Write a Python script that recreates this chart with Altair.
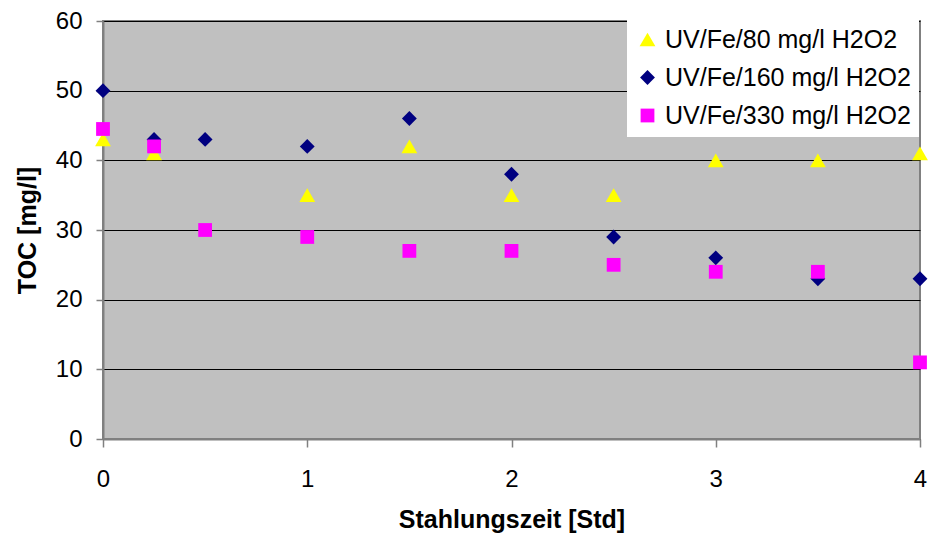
import altair as alt
import pandas as pd

series_names = ["UV/Fe/80 mg/l H2O2", "UV/Fe/160 mg/l H2O2", "UV/Fe/330 mg/l H2O2"]
series_colors = ["#FFFF00", "#000080", "#FF00FF"]
series_shapes = ["triangle-up", "diamond", "square"]

x_80 = [0, 0.25, 1, 1.5, 2, 2.5, 3, 3.5, 4]
toc_80 = [43, 41, 35, 42, 35, 35, 40, 40, 41]

x_160 = [0, 0.25, 0.5, 1, 1.5, 2, 2.5, 3, 3.5, 4]
toc_160 = [50, 43, 43, 42, 46, 38, 29, 26, 23, 23]

x_330 = [0, 0.25, 0.5, 1, 1.5, 2, 2.5, 3, 3.5, 4]
toc_330 = [44.5, 42, 30, 29, 27, 27, 25, 24, 24, 11]

x_ticks = [0, 1, 2, 3, 4]
y_ticks = [0, 10, 20, 30, 40, 50, 60]

rows = []
for name, xs, ys in zip(series_names, [x_80, x_160, x_330], [toc_80, toc_160, toc_330]):
    for xv, yv in zip(xs, ys):
        rows.append({"Zeit": xv, "TOC": yv, "Serie": name})
df = pd.DataFrame(rows)

FONT = "Liberation Sans"

points = alt.Chart(df).mark_point(filled=True, opacity=1, strokeWidth=0).encode(
    x=alt.X("Zeit:Q",
            scale=alt.Scale(domain=[0, 4], nice=False, zero=False),
            axis=alt.Axis(values=x_ticks, title="Stahlungszeit [Std]", grid=False,
                          format="d", tickSize=8, labelPadding=20, titlePadding=16,
                          labelFlush=False)),
    y=alt.Y("TOC:Q",
            scale=alt.Scale(domain=[0, 60], nice=False),
            axis=alt.Axis(values=y_ticks, title="TOC [mg/l]", grid=True,
                          tickSize=7, labelPadding=14, titlePadding=15,
                          labelFlush=False)),
    color=alt.Color("Serie:N",
                    scale=alt.Scale(domain=series_names, range=series_colors),
                    legend=alt.Legend(title=None, orient="none", legendX=524, legendY=-2)),
    shape=alt.Shape("Serie:N",
                    scale=alt.Scale(domain=series_names, range=series_shapes),
                    legend=alt.Legend(title=None, orient="none", legendX=524, legendY=-2)),
    size=alt.Size("Serie:N",
                  scale=alt.Scale(domain=series_names, range=[250, 190, 250]),
                  legend=None),
)

chart = points.properties(
    width=817,
    height=418,
    autosize=alt.AutoSizeParams(type="none"),
    padding={"left": 95, "top": 13, "right": 8, "bottom": 95},
    background="white",
).configure_view(
    fill="#C0C0C0", stroke="#808080", strokeWidth=2
).configure_axis(
    labelFont=FONT, labelFontSize=24, labelColor="black",
    titleFont=FONT, titleFontSize=25, titleFontWeight="bold", titleColor="black",
    domainColor="#808080", domainWidth=2, tickColor="#808080", tickWidth=1.5,
    gridColor="black", gridWidth=1, gridOpacity=1,
).configure_legend(
    labelFont=FONT, labelFontSize=25, labelColor="black", labelLimit=400,
    fillColor="white", padding=8, rowPadding=12, symbolSize=170,
    symbolOffset=0, labelOffset=5, symbolStrokeWidth=0,
)

chart.save("out.html", embed_options={"renderer": "svg", "actions": False})
